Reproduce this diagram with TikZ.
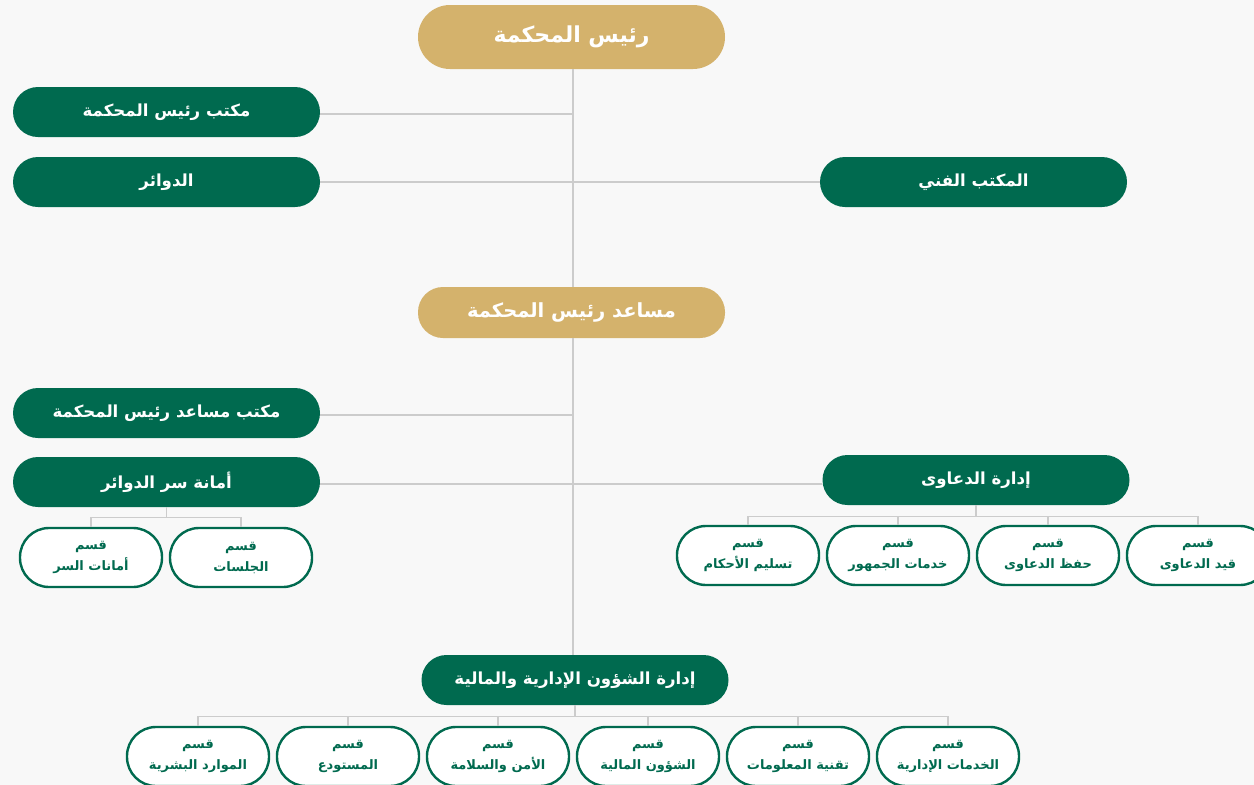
\documentclass[tikz,border=0pt]{standalone}
\usepackage{fontspec}
\newfontfamily\arabicfont[Script=Arabic]{DejaVu Sans}
\TeXXeTstate=1
\definecolor{gold}{HTML}{D4B26C}
\definecolor{dgreen}{HTML}{006A4F}
\definecolor{bgc}{HTML}{F8F8F8}
\definecolor{lnc}{HTML}{CCCCCC}
\tikzset{
  goldbox/.style={rectangle, rounded corners=25pt, fill=gold, text=white, minimum width=307pt, minimum height=51pt, inner sep=0pt, font=\arabicfont\bfseries\fontsize{19.5}{24}\selectfont},
  greenbox/.style={rectangle, rounded corners=25pt, fill=dgreen, text=white, minimum width=307pt, minimum height=50pt, inner sep=0pt, font=\arabicfont\bfseries\fontsize{16.6}{20}\selectfont},
  subbox/.style={rectangle, rounded corners=29pt, draw=dgreen, line width=2.4pt, fill=white, text=dgreen, minimum width=142pt, minimum height=59pt, inner sep=0pt, align=center, font=\arabicfont\bfseries\fontsize{13}{21}\selectfont},
  conn/.style={draw=lnc, line width=1.1pt}
}
\begin{document}
\begin{tikzpicture}[x=1pt,y=-1pt]
\fill[bgc] (0,0) rectangle (1254,785);
\clip (0,0) rectangle (1254,785);
% main nodes
\node[goldbox, minimum height=64pt, rounded corners=32pt, font=\arabicfont\bfseries\fontsize{22}{26}\selectfont] (top) at (571.5,37) {\beginR رئيس المحكمة\endR};
\node[greenbox] (office) at (166.5,112) {\beginR مكتب رئيس المحكمة\endR};
\node[greenbox] (circ) at (166.5,182) {\beginR الدوائر\endR};
\node[greenbox] (tech) at (973.5,182) {\beginR المكتب الفني\endR};
\node[goldbox] (asst) at (571.5,312.5) {\beginR مساعد رئيس المحكمة\endR};
\node[greenbox] (aoffice) at (166.5,413) {\beginR مكتب مساعد رئيس المحكمة\endR};
\node[greenbox] (amana) at (166.5,482) {\beginR أمانة سر الدوائر\endR};
\node[greenbox] (claims) at (976,480) {\beginR إدارة الدعاوى\endR};
\node[greenbox] (admin) at (575,680) {\beginR إدارة الشؤون الإدارية والمالية\endR};
% sub boxes of amana
\node[subbox] (am1) at (91,557.5) {\beginR قسم\endR\\\beginR أمانات السر\endR};
\node[subbox] (am2) at (241,557.5) {\beginR قسم\endR\\\beginR الجلسات\endR};
% sub boxes of claims
\node[subbox] (cl1) at (748,555.5) {\beginR قسم\endR\\\beginR تسليم الأحكام\endR};
\node[subbox] (cl2) at (898,555.5) {\beginR قسم\endR\\\beginR خدمات الجمهور\endR};
\node[subbox] (cl3) at (1048,555.5) {\beginR قسم\endR\\\beginR حفظ الدعاوى\endR};
\node[subbox] (cl4) at (1198,555.5) {\beginR قسم\endR\\\beginR قيد الدعاوى\endR};
% sub boxes of admin
\node[subbox] (ad1) at (198,756.5) {\beginR قسم\endR\\\beginR الموارد البشرية\endR};
\node[subbox] (ad2) at (348,756.5) {\beginR قسم\endR\\\beginR المستودع\endR};
\node[subbox] (ad3) at (498,756.5) {\beginR قسم\endR\\\beginR الأمن والسلامة\endR};
\node[subbox] (ad4) at (648,756.5) {\beginR قسم\endR\\\beginR الشؤون المالية\endR};
\node[subbox] (ad5) at (798,756.5) {\beginR قسم\endR\\\beginR تقنية المعلومات\endR};
\node[subbox] (ad6) at (948,756.5) {\beginR قسم\endR\\\beginR الخدمات الإدارية\endR};
% connectors
\coordinate (sp) at ([xshift=1.5pt]top.south);
\draw[conn] (sp) -- (sp |- asst.north);
\draw[conn] ([xshift=1.5pt]asst.south) -- ([xshift=1.5pt]asst.south |- admin.north);
\draw[conn] ([yshift=-2pt]office.east) -- ([yshift=-2pt]office.east -| sp);
\draw[conn] (circ.east) -- (circ.east -| sp);
\draw[conn] (tech.west) -- (tech.west -| sp);
\draw[conn] ([yshift=-2pt]aoffice.east) -- ([yshift=-2pt]aoffice.east -| sp);
\draw[conn] ([yshift=-2pt]amana.east) -- ([yshift=-2pt]amana.east -| sp);
\draw[conn] ([yshift=-4pt]claims.west) -- ([yshift=-4pt]claims.west -| sp);
% amana children
\coordinate (ab) at ([yshift=-10pt]amana.south);
\draw[conn] (amana.south) -- (ab);
\draw[conn] (am1.north) |- (ab) -| (am2.north);
% claims children
\coordinate (cb) at ([yshift=-11pt]claims.south);
\draw[conn] (claims.south) -- (cb);
\draw[conn] (cl1.north) |- (cb) -| (cl4.north);
\draw[conn] (cl2.north) -- (cl2.north |- cb);
\draw[conn] (cl3.north) -- (cl3.north |- cb);
% admin children
\coordinate (adb) at ([yshift=-11pt]admin.south);
\draw[conn] (admin.south) -- (adb);
\draw[conn] (ad1.north) |- (adb) -| (ad6.north);
\foreach \n in {ad2,ad3,ad4,ad5} \draw[conn] (\n.north) -- (\n.north |- adb);
\end{tikzpicture}
\end{document}
